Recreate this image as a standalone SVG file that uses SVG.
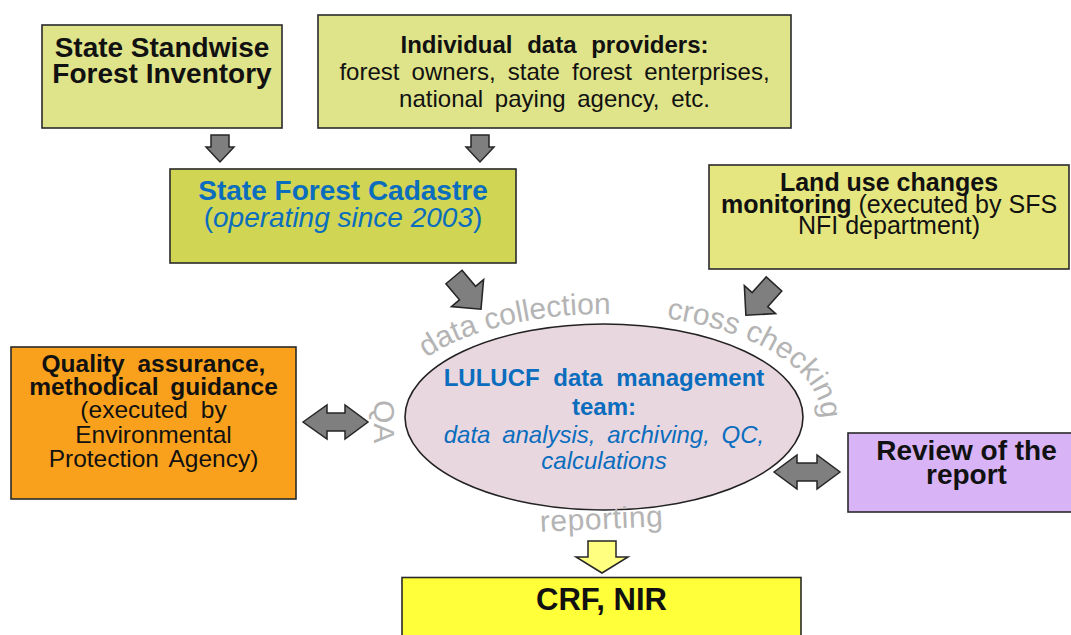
<svg xmlns="http://www.w3.org/2000/svg" width="1071" height="635" viewBox="0 0 1071 635">
  <style>
    .box { stroke: #2a2a2a; stroke-width: 1.6; }
    .t { font-family: "Liberation Sans", Arial, sans-serif; fill: #111; text-anchor: middle; }
    .b { font-weight: bold; }
    .blue { fill: #0b6dbd; }
    .it { font-style: italic; }
    .flow { fill: #7f7f7f; stroke: #262626; stroke-width: 1.5; stroke-linejoin: miter; }
    .label { font-family: "Liberation Sans", Arial, sans-serif; fill: #b4b4b4; font-size: 30px; }
  </style>
  <defs>
    <!-- block arrow pointing along +x, tail centre at origin -->
    <polygon id="blockArrow" points="0,-10 20,-10 20,-20 40,0 20,20 20,10 0,10"/>
    <!-- baseline ring around the team ellipse for the curved process labels -->
    <path id="ring" d="M387,417 A217,103 0 1,1 821,417 A217,103 0 1,1 387,417"/>
  </defs>

  <rect width="1071" height="635" fill="#ffffff"/>

  <g id="standwise-inventory">
    <rect class="box" x="42" y="25" width="240" height="103" fill="#dfe389"/>
    <text class="t b" font-size="28" x="162" y="57">State Standwise</text>
    <text class="t b" font-size="28" x="162" y="83">Forest Inventory</text>
  </g>

  <g id="data-providers">
    <rect class="box" x="318" y="15" width="473" height="113" fill="#dfe389"/>
    <text class="t b" font-size="24" x="554.5" y="53" word-spacing="8">Individual data providers:</text>
    <text class="t" font-size="24" x="554.5" y="80" word-spacing="5.5">forest owners, state forest enterprises,</text>
    <text class="t" font-size="24" x="554.5" y="107" word-spacing="5">national paying agency, etc.</text>
  </g>

  <g id="forest-cadastre">
    <rect class="box" x="170" y="169" width="346" height="94" fill="#d0d553"/>
    <text class="t b blue" font-size="28" x="343" y="200">State Forest Cadastre</text>
    <text class="t blue" font-size="28" x="343" y="226.5">(<tspan class="it">operating since 2003</tspan>)</text>
  </g>

  <g id="land-use-monitoring">
    <rect class="box" x="709" y="165" width="360" height="104" fill="#e5e680"/>
    <text class="t b" font-size="25" x="889" y="190.5">Land use changes</text>
    <text class="t" font-size="25" x="889" y="212.5"><tspan class="b">monitoring</tspan> (executed by SFS</text>
    <text class="t" font-size="25" x="889" y="234">NFI department)</text>
  </g>

  <g id="quality-assurance">
    <rect class="box" x="11" y="347" width="285" height="152" fill="#f9a11c"/>
    <text class="t b" font-size="24.5" x="153.5" y="371.5" word-spacing="6">Quality assurance,</text>
    <text class="t b" font-size="24.5" x="153.5" y="394.5" word-spacing="5">methodical guidance</text>
    <text class="t" font-size="24.5" x="153.5" y="418" word-spacing="6">(executed by</text>
    <text class="t" font-size="24.5" x="153.5" y="442.5">Environmental</text>
    <text class="t" font-size="24.5" x="153.5" y="466.5" word-spacing="4">Protection Agency)</text>
  </g>

  <g id="lulucf-team">
    <ellipse cx="604" cy="417" rx="199" ry="93" fill="#e9d7df" stroke="#222" stroke-width="1.6"/>
    <text class="t b blue" font-size="24" x="604" y="385.5" word-spacing="7">LULUCF data management</text>
    <text class="t b blue" font-size="24" x="604" y="415">team:</text>
    <text class="t it blue" font-size="24" x="604" y="443" word-spacing="5">data analysis, archiving, QC,</text>
    <text class="t it blue" font-size="24" x="604" y="469">calculations</text>
  </g>

  <g id="report-review">
    <rect class="box" x="848" y="433" width="240" height="79" fill="#d8b4f7"/>
    <text class="t b" font-size="28" x="966.5" y="460">Review of the</text>
    <text class="t b" font-size="28" x="966.5" y="483.5">report</text>
  </g>

  <g id="crf-nir">
    <rect class="box" x="402" y="577.5" width="399" height="70" fill="#ffff3a"/>
    <text class="t b" font-size="31" x="601.5" y="610">CRF, NIR</text>
  </g>

  <g id="process-labels">
    <text class="label"><textPath href="#ring" startOffset="74">data collection</textPath></text>
    <text class="label" font-size="28"><textPath href="#ring" startOffset="322">cross checking</textPath></text>
    <text class="label" transform="translate(374,400) rotate(90)">QA</text>
    <text class="label" font-size="28" letter-spacing="0.6" text-anchor="middle" transform="rotate(-2.5 602 529)" x="602" y="529">reporting</text>
  </g>

  <g id="connectors">
    <path class="flow" d="M211,135 L229,135 L229,147 L234,147 L220,162 L206,147 L211,147 Z"/>
    <path class="flow" d="M471,135 L489,135 L489,147 L494,147 L480,162 L466,147 L471,147 Z"/>
    <use class="flow" href="#blockArrow" transform="translate(454,277) rotate(50) scale(1.05)"/>
    <use class="flow" href="#blockArrow" transform="translate(774,284) rotate(132) scale(1.05)"/>
    <path class="flow" d="M303,422 L327,405 L327,413 L345,413 L345,405 L368,422 L345,439 L345,431 L327,431 L327,439 Z"/>
    <path class="flow" d="M774,472 L797,455 L797,463 L817,463 L817,455 L840,472 L817,489 L817,481 L797,481 L797,489 Z"/>
    <path class="flow" style="fill:#ffff80" d="M588,541 L616,541 L616,557 L628,557 L602,573 L576,557 L588,557 Z"/>
  </g>
</svg>
